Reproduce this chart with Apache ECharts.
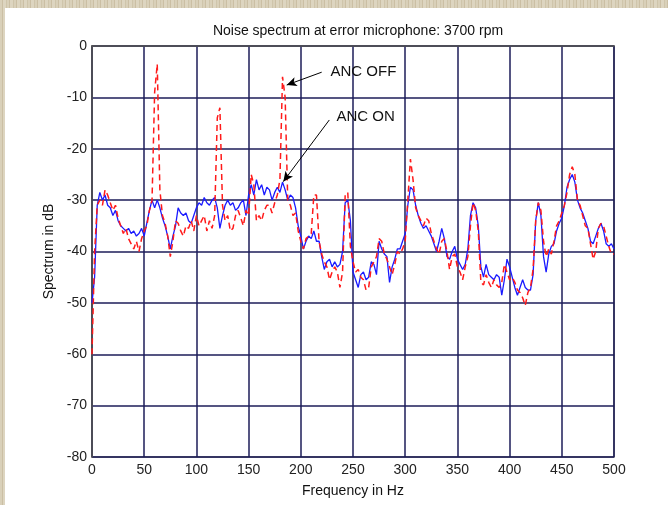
<!DOCTYPE html>
<html><head><meta charset="utf-8">
<script src="https://cdn.jsdelivr.net/npm/echarts@6/dist/echarts.min.js"></script>
<style>
html,body{margin:0;padding:0;width:668px;height:505px;overflow:hidden;}
body{background-color:#d6ccb3;background-image:repeating-linear-gradient(90deg,#d9d0b9 0px,#d9d0b9 2px,#cbbfa4 2px,#cbbfa4 3px,#ddd5c0 3px,#ddd5c0 6px,#cfc5ab 6px,#cfc5ab 7px);}
#frame{position:absolute;left:5px;top:8px;width:663px;height:497px;background:#fff;}
#chart{width:663px;height:497px;}
</style></head>
<body><div id="frame"><div id="chart"></div></div>
<script>
const titleText = 'Noise spectrum at error microphone: 3700 rpm';
const xName = 'Frequency in Hz';
const yName = 'Spectrum in dB';
const xTicks = [0,50,100,150,200,250,300,350,400,450,500];
const yTicks = [-80,-70,-60,-50,-40,-30,-20,-10,0];
const freq = [0,2.5,5,7.5,10,12.5,15,17.5,20,22.5,25,27.5,30,32.5,35,37.5,40,42.5,45,47.5,
50,52.5,55,57.5,60,62.5,65,67.5,70,72.5,75,77.5,80,82.5,85,87.5,90,92.5,95,97.5,
100,102.5,105,107.5,110,112.5,115,117.5,120,122.5,125,127.5,130,132.5,135,137.5,140,142.5,145,147.5,
150,152.5,155,157.5,160,162.5,165,167.5,170,172.5,175,177.5,180,182.5,185,187.5,190,192.5,195,197.5,
200,202.5,205,207.5,210,212.5,215,217.5,220,222.5,225,227.5,230,232.5,235,237.5,240,242.5,245,247.5,
250,252.5,255,257.5,260,262.5,265,267.5,270,272.5,275,277.5,280,282.5,285,287.5,290,292.5,295,297.5,
300,302.5,305,307.5,310,312.5,315,317.5,320,322.5,325,327.5,330,332.5,335,337.5,340,342.5,345,347.5,
350,352.5,355,357.5,360,362.5,365,367.5,370,372.5,375,377.5,380,382.5,385,387.5,390,392.5,395,397.5,
400,402.5,405,407.5,410,412.5,415,417.5,420,422.5,425,427.5,430,432.5,435,437.5,440,442.5,445,447.5,
450,452.5,455,457.5,460,462.5,465,467.5,470,472.5,475,477.5,480,482.5,485,487.5,490,492.5,495,497.5,500];
const ancOn = [-50,-45,-31,-28.5,-30,-29,-31,-31.5,-33,-32,-34,-35,-35.5,-36,-35.5,-36.5,-36,-37,-36.5,-35.5,
-37,-34.5,-32,-30,-31.5,-30,-31.5,-33.5,-35,-37,-39.5,-37,-35,-31.5,-32.5,-33,-32.5,-34,-34.5,-33,
-31.5,-30.5,-31,-29.5,-30.5,-31,-30,-29.5,-31.5,-35.5,-33,-31,-30,-31,-30.5,-32,-31.5,-30.5,-30,-33,
-29,-27,-29,-26,-28,-27,-29,-27.5,-28,-30,-28.5,-27.5,-28.5,-26.5,-28,-30,-29,-29.5,-31.5,-35,
-37,-39.5,-38,-37,-37.5,-36,-38,-38,-41,-43.5,-42,-41.5,-43,-42,-43,-42.5,-40,-30.5,-30,-34,
-44,-45.5,-47,-44.5,-44,-45.5,-45,-42,-42.5,-44.5,-38,-39.5,-40.5,-41,-46,-43,-41.5,-39.5,-39.5,-38,
-36.5,-31,-27.5,-28,-31,-33,-34.5,-35.5,-35,-36,-37,-38.5,-40,-38,-35.5,-37.5,-41,-41.5,-40,-39,
-41.5,-42.5,-43.5,-42.5,-39.5,-33,-30.5,-31.5,-35,-43,-45,-42.5,-44.5,-45,-45.5,-44.5,-45,-48.5,-45.5,-41.5,
-43,-45,-47,-48.5,-47,-45.5,-47,-47.5,-47.5,-44.5,-34,-30.5,-33,-41,-44,-40.5,-39,-38.5,-36,-34.5,
-33.5,-31,-27.5,-26,-25,-26.5,-30,-31.5,-32.5,-34,-35.5,-38,-38.5,-37,-35.5,-34.5,-36,-38.5,-39,-38.5,-39.5];
const ancOff = [-60,-40,-31,-30,-31,-28,-29,-30.5,-32,-31,-33.5,-35,-36.5,-35.5,-37.5,-38.5,-39.5,-38,-40,-37.5,
-36,-35,-32,-30,-9,-3.5,-28,-33,-34.5,-37,-41,-38,-34,-34.5,-36,-37,-35,-35.5,-34,-36,
-33,-35,-34,-33,-36,-34,-35.5,-33,-14,-12,-31,-34,-33,-36,-35.5,-33,-32,-33.5,-35,-32,
-33,-25,-27,-34,-33,-34,-32,-31,-31,-32.5,-30.5,-29,-26,-6,-10,-30,-31,-33,-32.5,-36,
-38,-39.5,-37.5,-37,-36.5,-29,-29,-38,-40.5,-42,-43,-45.5,-44,-43,-44,-47,-44,-29,-28.5,-39,
-42,-44,-43.5,-45,-45.5,-47.5,-47,-43,-42,-41,-37.5,-38,-40.5,-41.5,-43,-44.5,-42.5,-40,-40.5,-39.5,
-38,-30,-22,-26,-31.5,-33,-34,-35,-33.5,-34,-36.5,-38,-39.5,-40.5,-38,-37.5,-40,-43.5,-41,-40.5,
-43,-44,-45.5,-43,-41,-35,-30.5,-32,-36,-46,-46.5,-44.5,-46,-47,-45.5,-46.5,-47,-46,-42.5,-44,
-45.5,-45,-46,-47.5,-48,-49,-50.5,-48,-47,-43.5,-34,-30.5,-32,-38,-41,-39.5,-40.5,-38,-35,-34,
-32.5,-31,-28.5,-25,-23.5,-25,-30,-31,-33,-35,-35.5,-38.5,-41.5,-40,-35.5,-34.5,-35,-37,-39,-40.5,-40.5];
const labelOff = 'ANC OFF';
const labelOn = 'ANC ON';
const offArrow = [[220,-5.1],[186.5,-7.6]];
const onArrow = [[227.3,-14.4],[183.2,-26.4]];
const offLabelAt = [228,-5.1];
const onLabelAt = [233.7,-13.8];

const font = "'Liberation Sans', Arial, sans-serif";
const chart = echarts.init(document.getElementById('chart'), null, {renderer:'canvas'});
const onData = freq.map((f,i)=>[f, ancOn[i]]);
const offData = freq.map((f,i)=>[f, ancOff[i]]);
chart.setOption({
  animation:false,
  backgroundColor:'#ffffff',
  title:{text:titleText,left:348,top:11,textAlign:'center',
    textStyle:{fontFamily:font,fontSize:14,fontWeight:'normal',color:'#111'}},
  grid:{left:87,right:54,top:38,bottom:48,show:true,borderColor:'#555',borderWidth:1.5,backgroundColor:'#fff'},
  xAxis:{type:'value',min:0,max:500,interval:50,name:xName,nameLocation:'middle',nameGap:27,
    nameTextStyle:{fontFamily:font,fontSize:14,color:'#111'},
    axisLine:{show:true,lineStyle:{color:'#555',width:1.5}},
    axisTick:{show:false},
    axisLabel:{fontFamily:font,fontSize:14,color:'#222',margin:6,
      formatter:v=>xTicks.includes(v)?String(v):''},
    splitLine:{show:true,lineStyle:{color:'#1c1c58',width:1.5}}},
  yAxis:{type:'value',min:-80,max:0,interval:10,name:yName,nameLocation:'middle',nameGap:32,
    nameRotate:90,nameTextStyle:{fontFamily:font,fontSize:14,color:'#111'},
    axisLine:{show:true,lineStyle:{color:'#555',width:1.5}},
    axisTick:{show:false},
    axisLabel:{fontFamily:font,fontSize:14,color:'#222',margin:5,
      formatter:v=>yTicks.includes(v)?String(v):''},
    splitLine:{show:true,lineStyle:{color:'#1c1c58',width:1.5}}},
  series:[
    {name:labelOn,type:'line',data:onData,showSymbol:false,symbol:'none',
      lineStyle:{color:'#1a1aff',width:1.3},z:3},
    {name:labelOff,type:'line',data:offData,showSymbol:false,symbol:'none',
      lineStyle:{color:'#ff1a1a',width:1.5,type:[6,4]},z:4,
      markLine:{silent:true,symbol:['none','arrow'],symbolSize:[7,10],
        lineStyle:{color:'#000',width:1,type:'solid'},label:{show:false},
        data:[[{coord:offArrow[0]},{coord:offArrow[1]}],[{coord:onArrow[0]},{coord:onArrow[1]}]]},
      markPoint:{silent:true,symbol:'circle',symbolSize:1,itemStyle:{color:'rgba(0,0,0,0)'},
        label:{show:true,position:'right',distance:0,fontFamily:font,fontSize:15,color:'#111'},
        data:[{coord:offLabelAt,label:{formatter:labelOff}},{coord:onLabelAt,label:{formatter:labelOn}}]}}
  ]
});
</script></body></html>
